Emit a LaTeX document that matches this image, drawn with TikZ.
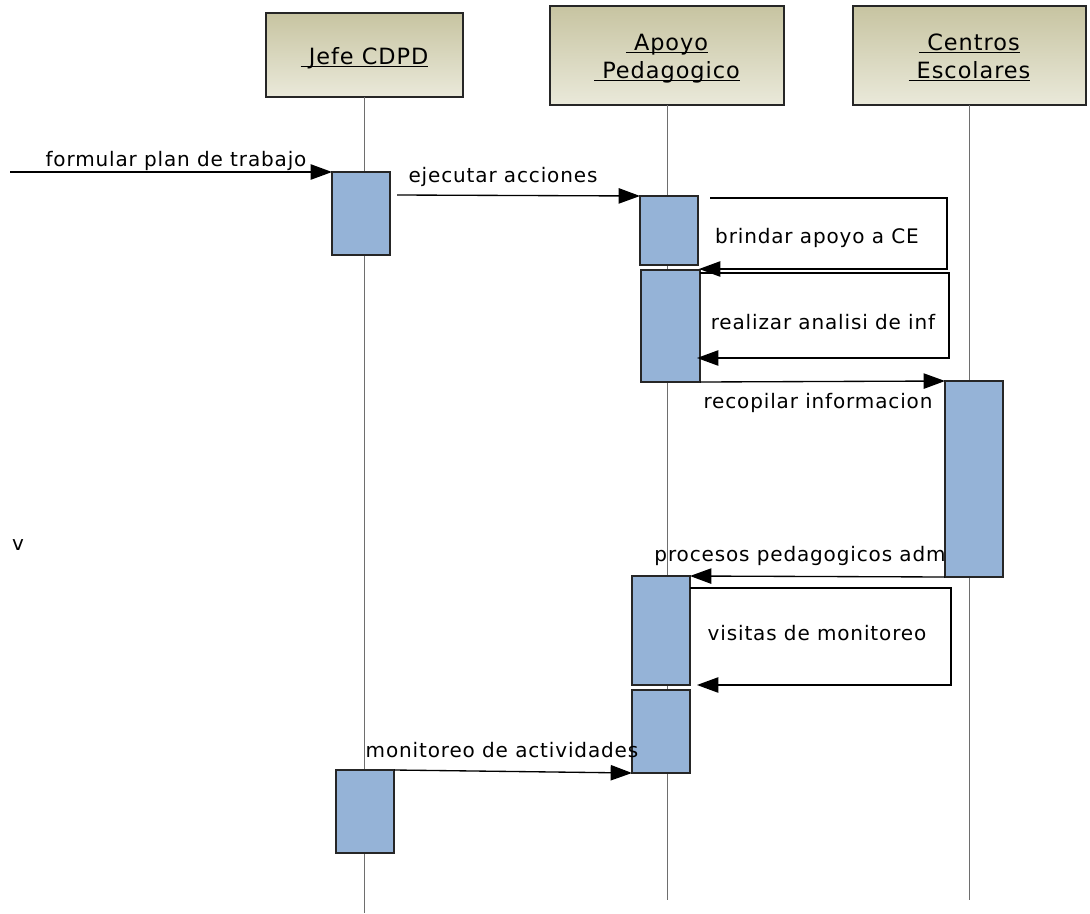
\documentclass[tikz,border=0pt]{standalone}
\usepackage{fontspec}
\setmainfont{DejaVu Sans}[LetterSpace=4.3]
\usetikzlibrary{arrows.meta,calc}
\definecolor{actfill}{RGB}{149,179,215}
\definecolor{headtop}{RGB}{199,196,161}
\definecolor{headbot}{RGB}{234,233,218}
\definecolor{lifegray}{RGB}{110,110,110}
\newcommand\hdul[1]{\setbox0\hbox{\ #1}\rlap{\rule[-2.2pt]{\wd0}{1pt}}\box0}
\tikzset{
  head/.style={draw=black!85, line width=1pt, top color=headtop, bottom color=headbot,
    anchor=north west, inner sep=0pt, outer sep=0pt},
  htext/.style={anchor=base, inner sep=0pt, font=\fontsize{16.8pt}{20.5pt}\selectfont},
  act/.style={draw=black!85, line width=1pt, fill=actfill, anchor=north west, inner sep=0pt, outer sep=0pt},
  life/.style={draw=lifegray, line width=0.7pt},
  msg/.style={draw=black, line width=1pt, -{Triangle[length=16pt,width=11.5pt]}},
  lbl/.style={font=\fontsize{15pt}{17pt}\selectfont, inner sep=0pt, text=black}
}
\begin{document}
\begin{tikzpicture}[x=0.75pt,y=-0.75pt]
\useasboundingbox (0,0) rectangle (1090,914);
% headers
\node[head, minimum width=147.75pt, minimum height=63pt] (h1) at (266,13) {};
\node[head, minimum width=175.5pt, minimum height=74.25pt] (h2) at (550,6) {};
\node[head, minimum width=174.75pt, minimum height=74.25pt] (h3) at (853,6) {};
\node[htext] (h1t) at (364.5,64) {\hdul{Jefe CDPD}};
\node[htext] (h2t) at (667,50) {\hdul{Apoyo}};
\node[htext] (h2u) at (667,78) {\hdul{Pedagogico}};
\node[htext] (h3t) at (969.5,50) {\hdul{Centros}};
\node[htext] (h3u) at (969.5,78) {\hdul{Escolares}};
% lifeline ends
\coordinate (e1) at (364.5,913);
\coordinate (e2) at (667,900);
\coordinate (e3) at (969.5,900);
\draw[life] (h1.south) -- (e1);
\draw[life] (h2.south) -- (e2);
\draw[life] (h3.south) -- (e3);
% activations
\node[act, minimum width=43.5pt, minimum height=62.25pt] (j1) at (332,172) {};
\node[act, minimum width=43.5pt, minimum height=51.75pt] (a1) at (640,196) {};
\node[act, minimum width=44.25pt, minimum height=84pt] (a2) at (641,270) {};
\node[act, minimum width=43.5pt, minimum height=147pt] (c1) at (945,381) {};
\node[act, minimum width=43.5pt, minimum height=81.75pt] (a3) at (632,576) {};
\node[act, minimum width=43.5pt, minimum height=62.25pt] (a4) at (632,690) {};
\node[act, minimum width=43.5pt, minimum height=62.25pt] (j2) at (336,770) {};
% message endpoints
\coordinate (s0) at (10,172);
\coordinate (s1) at (397,195);
\coordinate (s2) at (710,198);
\coordinate (s2b) at (947,198);
\coordinate (s2c) at (947,269);
\coordinate (t2) at (699,269);
\coordinate (s3) at (700,273);
\coordinate (s3b) at (949,273);
\coordinate (s3c) at (949,358);
\coordinate (t3) at (697,358);
\coordinate (s4) at (690,588);
\coordinate (s4b) at (951,588);
\coordinate (s4c) at (951,685);
\coordinate (t4) at (697,685);
% messages
\draw[msg] (s0) -- (j1.north west);
\draw[msg] (s1) -- (a1.north west);
\draw[msg] (s2) -- (s2b) -- (s2c) -- (t2);
\draw[msg] (s3) -- (s3b) -- (s3c) -- (t3);
\draw[msg] (a2.south east) -- (c1.north west);
\draw[msg] (c1.south west) -- (a3.north east);
\draw[msg] (s4) -- (s4b) -- (s4c) -- (t4);
\draw[msg] (j2.north east) -- (a4.south west);
% labels
\node[lbl] (l0) at (176,161) {formular plan de trabajo};
\node[lbl] (l1) at (503,177) {ejecutar acciones};
\node[lbl] (l2) at (817,238) {brindar apoyo a CE};
\node[lbl] (l3) at (823,322) {realizar analisi de inf};
\node[lbl] (l4) at (818,403) {recopilar informacion};
\node[lbl] (l5) at (800,556) {procesos pedagogicos adm};
\node[lbl] (l6) at (817,633) {visitas de monitoreo};
\node[lbl] (l7) at (502,750) {monitoreo de actividades};
\node[lbl] (l8) at (18,545) {v};
\end{tikzpicture}
\end{document}
